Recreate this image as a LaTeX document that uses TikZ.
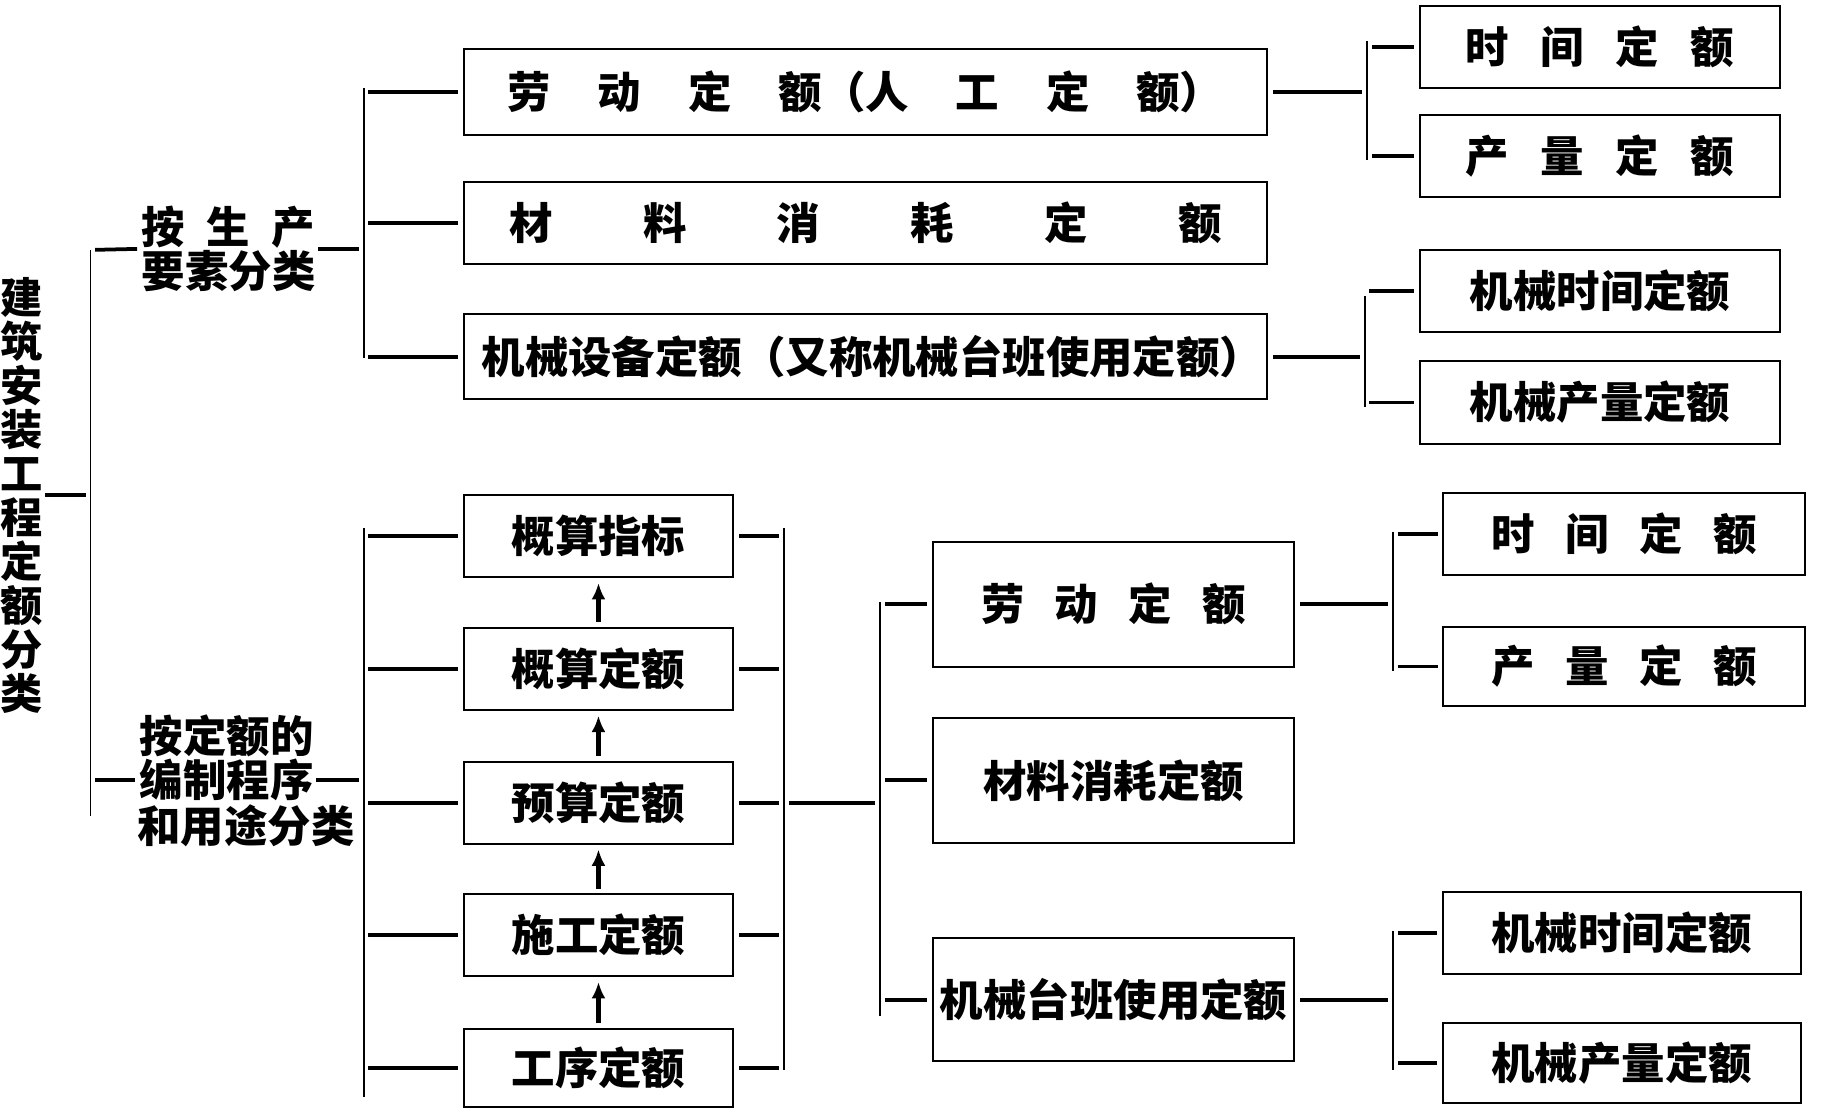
\documentclass[tikz,border=0pt]{standalone}
\usepackage{fontspec}
\setmainfont{Noto Sans CJK SC}
\usetikzlibrary{arrows,arrows.meta,positioning}

\begin{document}
\begin{tikzpicture}[x=1pt,y=-1pt,
    box/.style={draw, line width=1.7pt, inner sep=0pt, font=\bfseries\fontsize{37}{40}\selectfont},
    bigbox/.style={box, minimum width=685pt, font=\bfseries\fontsize{37}{40}\selectfont},
    lbl/.style={inner sep=0pt, align=left, font=\bfseries\fontsize{37}{38}\selectfont},
    stub/.style={line width=3.2pt, shorten <=4pt, shorten >=4pt},
    rail/.style={line width=1.4pt},
    uparrow/.style={-{Latex[length=14pt,width=12pt]}, line width=3.6pt, shorten <=4pt, shorten >=4pt}]
\useasboundingbox (0,0) rectangle (1568,945);

% title and first split
\node[lbl, align=center, font=\bfseries\fontsize{36}{37.5}\selectfont] (title) at (18,422)
    {建\\筑\\安\\装\\工\\程\\定\\额\\分\\类};
\node[lbl] (sc) at (195,212) {按\hspace{18pt}生\hspace{18pt}产\\要素分类};
\node[lbl, anchor=west] (yt2) at (119,665) {编制程序};
\node[lbl, anchor=west] (yt1) at (119,627) {按定额的};
\node[lbl, anchor=west] (yt3) at (117,704) {和用途分类};

\coordinate (r0a) at (77,213);
\coordinate (r0b) at (77,695);
\draw[rail] (r0a) -- (r0b);
\draw[stub, shorten <=2pt] (title.east) -- (title.east -| r0a);
\draw[stub] (r0a) -- (sc.west);
\draw[stub] (yt2.west -| r0a) -- (yt2.west);

% by production factors
\node[bigbox, minimum height=73pt] (lab) at (737.5,78.5)
    {劳\hspace{40pt}动\hspace{40pt}定\hspace{40pt}额（人\hspace{40pt}工\hspace{40pt}定\hspace{40pt}额）};
\node[bigbox, minimum height=70pt] (mat) at (737.5,190)
    {材\hspace{77pt}料\hspace{77pt}消\hspace{77pt}耗\hspace{77pt}定\hspace{77pt}额};
\node[bigbox, minimum height=72pt] (mach) at (737.5,304)
    {\hspace{12pt}机械设备定额（又称机械台班使用定额）};

\node[box, minimum width=307pt, minimum height=70pt] (time1) at (1363.5,40)
    {时\hspace{27pt}间\hspace{27pt}定\hspace{27pt}额};
\node[box, minimum width=307pt, minimum height=70pt] (out1) at (1363.5,133)
    {产\hspace{27pt}量\hspace{27pt}定\hspace{27pt}额};
\node[box, minimum width=307pt, minimum height=70pt] (mtime1) at (1363.5,248) {机械时间定额};
\node[box, minimum width=307pt, minimum height=70pt] (mout1) at (1363.5,343) {机械产量定额};

\coordinate (r1a) at (310,75);
\coordinate (r1b) at (310,305);
\draw[rail] (r1a) -- (r1b);
\draw[stub, shorten <=2pt] (sc.east) -- (sc.east -| r1a);
\draw[stub] (lab.west -| r1a) -- (lab.west);
\draw[stub] (mat.west -| r1a) -- (mat.west);
\draw[stub] (mach.west -| r1a) -- (mach.west);

\coordinate (r2a) at (1165,35);
\coordinate (r2b) at (1165,136);
\draw[rail] (r2a) -- (r2b);
\draw[stub] (lab.east) -- (lab.east -| r2a);
\draw[stub] (time1.west -| r2a) -- (time1.west);
\draw[stub] (out1.west -| r2a) -- (out1.west);

\coordinate (r3a) at (1163,252);
\coordinate (r3b) at (1163,347);
\draw[rail] (r3a) -- (r3b);
\draw[stub] (mach.east) -- (mach.east -| r3a);
\draw[stub] (mtime1.west -| r3a) -- (mtime1.west);
\draw[stub] (mout1.west -| r3a) -- (mout1.west);

% by compiling order and use
\node[box, minimum width=230pt, minimum height=70pt] (gszb) at (510,457) {概算指标};
\node[box, minimum width=230pt, minimum height=70pt] (gsde) at (510,570) {概算定额};
\node[box, minimum width=230pt, minimum height=70pt] (ysde) at (510,684) {预算定额};
\node[box, minimum width=230pt, minimum height=70pt] (sgde) at (510,797) {施工定额};
\node[box, minimum width=230pt, minimum height=66pt] (gxde) at (510,910) {工序定额};
\foreach \a/\b in {gsde/gszb, ysde/gsde, sgde/ysde, gxde/sgde}
    \draw[uparrow] (\a.north) -- (\b.south);

\coordinate (r4a) at (310,450);
\coordinate (r4b) at (310,935);
\draw[rail] (r4a) -- (r4b);
\draw[stub, shorten <=2pt] (yt2.east) -- (yt2.east -| r4a);
\foreach \n in {gszb, gsde, ysde, sgde, gxde}
    \draw[stub] (\n.west -| r4a) -- (\n.west);

\coordinate (r5a) at (668,450);
\coordinate (r5b) at (668,912);
\draw[rail] (r5a) -- (r5b);
\foreach \n in {gszb, gsde, ysde, sgde, gxde}
    \draw[stub] (\n.east) -- (\n.east -| r5a);

\node[box, minimum width=308pt, minimum height=106pt] (labb) at (949,515)
    {劳\hspace{26pt}动\hspace{26pt}定\hspace{26pt}额};
\node[box, minimum width=308pt, minimum height=106pt] (matb) at (949,665) {材料消耗定额};
\node[box, minimum width=308pt, minimum height=105pt] (machb) at (949,852) {机械台班使用定额};

\coordinate (r6a) at (750,513);
\coordinate (r6b) at (750,866);
\draw[rail] (r6a) -- (r6b);
\draw[stub] (ysde.east -| r5a) -- (ysde.east -| r6a);
\draw[stub] (labb.west -| r6a) -- (labb.west);
\draw[stub] (matb.west -| r6a) -- (matb.west);
\draw[stub] (machb.west -| r6a) -- (machb.west);

\node[box, minimum width=308pt, minimum height=70pt] (time2) at (1384,455)
    {时\hspace{26pt}间\hspace{26pt}定\hspace{26pt}额};
\node[box, minimum width=308pt, minimum height=68pt] (out2) at (1384,568)
    {产\hspace{26pt}量\hspace{26pt}定\hspace{26pt}额};
\node[box, minimum width=305pt, minimum height=70pt] (mtime2) at (1382,795) {机械时间定额};
\node[box, minimum width=305pt, minimum height=68pt] (mout2) at (1382,906) {机械产量定额};

\coordinate (r7a) at (1187,453);
\coordinate (r7b) at (1187,572);
\draw[rail] (r7a) -- (r7b);
\draw[stub] (labb.east) -- (labb.east -| r7a);
\draw[stub] (time2.west -| r7a) -- (time2.west);
\draw[stub] (out2.west -| r7a) -- (out2.west);

\coordinate (r8a) at (1187,793);
\coordinate (r8b) at (1187,912);
\draw[rail] (r8a) -- (r8b);
\draw[stub] (machb.east) -- (machb.east -| r8a);
\draw[stub] (mtime2.west -| r8a) -- (mtime2.west);
\draw[stub] (mout2.west -| r8a) -- (mout2.west);
\end{tikzpicture}
\end{document}
